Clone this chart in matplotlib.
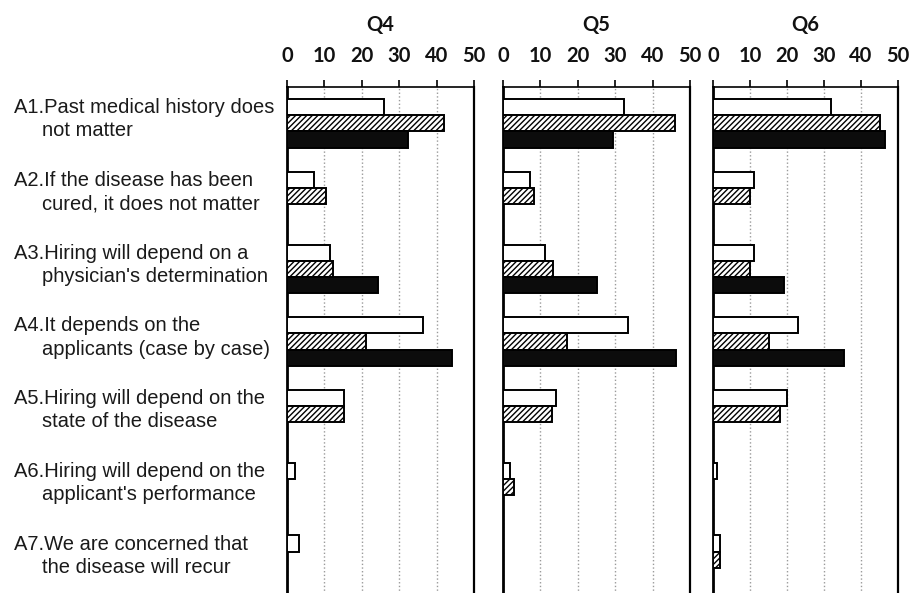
import numpy as np
import matplotlib
matplotlib.use("Agg")
import matplotlib.pyplot as plt
from matplotlib.transforms import blended_transform_factory

# ==========================================
# Data
# ==========================================
answers = [
    ("A1.Past medical history does", "not matter"),
    ("A2.If the disease has been", "cured, it does not matter"),
    ("A3.Hiring will depend on a", "physician's determination"),
    ("A4.It depends on the", "applicants (case by case)"),
    ("A5.Hiring will depend on the", "state of the disease"),
    ("A6.Hiring will depend on the", "applicant's performance"),
    ("A7.We are concerned that", "the disease will recur"),
]
questions = ["Q4", "Q5", "Q6"]

q4_white = [26.0, 7.2, 11.5, 36.4, 15.2, 2.2, 3.2]
q4_hatch = [42.0, 10.3, 12.4, 21.0, 15.3, 0, 0]
q4_black = [32.4, 0, 24.4, 44.0, 0, 0, 0]

q5_white = [32.3, 7.3, 11.3, 33.4, 14.2, 2.0, 0]
q5_hatch = [46.0, 8.2, 13.3, 17.1, 13.2, 2.9, 0]
q5_black = [29.5, 0, 25.2, 46.2, 0, 0, 0]

q6_white = [32.0, 11.1, 11.1, 23.1, 19.9, 1.0, 1.9]
q6_hatch = [45.2, 10.0, 10.0, 15.0, 18.1, 0, 1.9]
q6_black = [46.5, 0, 19.2, 35.3, 0, 0, 0]

series = {
    "Q4": (q4_white, q4_hatch, q4_black),
    "Q5": (q5_white, q5_hatch, q5_black),
    "Q6": (q6_white, q6_hatch, q6_black),
}
xticks = [0, 10, 20, 30, 40, 50]

# ==========================================
# Layout
# ==========================================
W, H = 911, 593
fig = plt.figure(figsize=(W / 100, H / 100), dpi=100)
plt.rcParams['hatch.linewidth'] = 1.0

panel_px = [(287, 474), (503, 690), (713, 898)]
top_px, bot_px = 87, 596

bar_h = 0.222
styles = [
    dict(color="white", edgecolor="black", hatch=None),
    dict(color="white", edgecolor="black", hatch="//////"),
    dict(color="#0c0c0c", edgecolor="black", hatch=None),
]

y = np.arange(len(answers))
axes = []
for (x0, x1), q in zip(panel_px, questions):
    ax = fig.add_axes([x0 / W, 1 - bot_px / H, (x1 - x0) / W, (bot_px - top_px) / H])
    axes.append(ax)
    for k, (vals, st) in enumerate(zip(series[q], styles)):
        vals = np.array(vals, dtype=float)
        mask = vals > 0
        ax.barh(y[mask] + (k - 1) * bar_h, vals[mask], height=bar_h,
                color=st["color"], edgecolor=st["edgecolor"], hatch=st["hatch"],
                linewidth=1.4, zorder=3)
    ax.set_xlim(0, 50)
    ax.set_ylim(len(answers) - 0.5, -0.5)
    ax.set_xticks(xticks)
    ax.xaxis.tick_top()
    ax.tick_params(axis='x', direction='out', length=5, width=1.2, pad=10,
                   labelsize=14.5, labelcolor='#111111')
    for lab in ax.get_xticklabels():
        lab.set_fontweight('bold')
        lab.set_family('Lato')
    ax.set_yticks([])
    ax.grid(axis='x', linestyle=':', color='#9a9a9a', linewidth=1.0, zorder=0)
    ax.spines['left'].set_linewidth(2.0)
    ax.spines['right'].set_linewidth(1.6)
    ax.spines['top'].set_linewidth(1.2)
    ax.spines['bottom'].set_visible(False)
    # question title above the tick labels
    fig.text((x0 + x1) / 2 / W, 1 - 25 / H, q, ha='center', va='center',
             fontsize=14.5, fontweight='bold', family='Lato', color='#111111')

# answer labels at the left, two lines each
trans = blended_transform_factory(fig.transFigure, axes[0].transData)
for i, (line1, line2) in enumerate(answers):
    ax = axes[0]
    ax.text(14 / W, i - 0.215, line1, transform=trans, ha='left', va='center',
            fontsize=14.5, family='Liberation Sans', color='#1a1a1a')
    ax.text(42 / W, i + 0.105, line2, transform=trans, ha='left', va='center',
            fontsize=14.5, family='Liberation Sans', color='#1a1a1a')

fig.savefig("out.png", dpi=100)
